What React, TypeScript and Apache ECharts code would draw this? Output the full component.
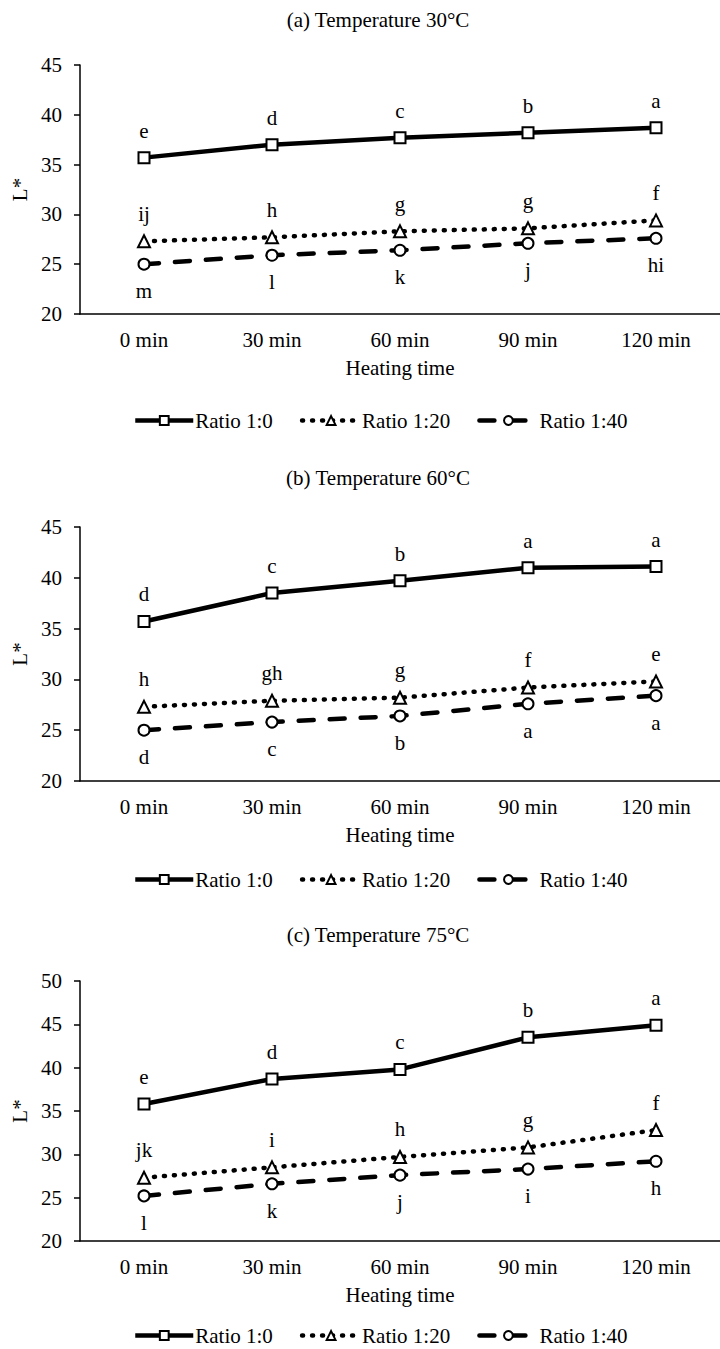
import React, { useEffect, useRef } from "react";
import * as echarts from "echarts";

const categories = ["0 min", "30 min", "60 min", "90 min", "120 min"];
const seriesNames = ["Ratio 1:0", "Ratio 1:20", "Ratio 1:40"];
const panelTitles = ["(a) Temperature 30°C", "(b) Temperature 60°C", "(c) Temperature 75°C"];
const yTicksMin = [20, 20, 20];
const yTicksMax = [45, 45, 50];

// Panel (a) 30°C
const a_ratio_1_0 = [35.7, 37.0, 37.7, 38.2, 38.7];
const a_ratio_1_20 = [27.3, 27.7, 28.3, 28.6, 29.4];
const a_ratio_1_40 = [25.0, 25.9, 26.4, 27.1, 27.6];
const a_letters_1_0 = ["e", "d", "c", "b", "a"];
const a_letters_1_20 = ["ij", "h", "g", "g", "f"];
const a_letters_1_40 = ["m", "l", "k", "j", "hi"];

// Panel (b) 60°C
const b_ratio_1_0 = [35.7, 38.5, 39.7, 41.0, 41.1];
const b_ratio_1_20 = [27.3, 27.9, 28.2, 29.2, 29.8];
const b_ratio_1_40 = [25.0, 25.8, 26.4, 27.6, 28.4];
const b_letters_1_0 = ["d", "c", "b", "a", "a"];
const b_letters_1_20 = ["h", "gh", "g", "f", "e"];
const b_letters_1_40 = ["d", "c", "b", "a", "a"];

// Panel (c) 75°C
const c_ratio_1_0 = [35.8, 38.7, 39.8, 43.5, 44.9];
const c_ratio_1_20 = [27.3, 28.5, 29.7, 30.8, 32.8];
const c_ratio_1_40 = [25.2, 26.6, 27.6, 28.3, 29.2];
const c_letters_1_0 = ["e", "d", "c", "b", "a"];
const c_letters_1_20 = ["jk", "i", "h", "g", "f"];
const c_letters_1_40 = ["l", "k", "j", "i", "h"];

const panelValues = [
  [a_ratio_1_0, a_ratio_1_20, a_ratio_1_40],
  [b_ratio_1_0, b_ratio_1_20, b_ratio_1_40],
  [c_ratio_1_0, c_ratio_1_20, c_ratio_1_40],
];
const panelLetters = [
  [a_letters_1_0, a_letters_1_20, a_letters_1_40],
  [b_letters_1_0, b_letters_1_20, b_letters_1_40],
  [c_letters_1_0, c_letters_1_20, c_letters_1_40],
];

const FONT = '"Liberation Serif", "Times New Roman", serif';
const FS = 21;

// layout (pixels)
const gridTops = [65, 527, 981];
const gridHeights = [249, 254, 260];
const titleYs = [20, 478, 935];
const legendCenters = [421, 880, 1336];

const seriesStyles = [
  { symbol: "rect", symbolSize: 11, lineType: "solid" as any, cap: "butt", labelPos: "top" },
  { symbol: "triangle", symbolSize: 12, lineType: [1, 9], cap: "round", labelPos: "top" },
  { symbol: "circle", symbolSize: 11, lineType: [15, 16], cap: "round", labelPos: "bottom" },
];

export default function App() {
  const ref = useRef<HTMLDivElement>(null);

  useEffect(() => {
    if (!ref.current) return;
    const chart = echarts.init(ref.current, null, { renderer: "svg" });

    const grids = gridTops.map((top, i) => ({
      left: 80,
      width: 645,
      top,
      height: gridHeights[i],
    }));

    const xAxes = gridTops.map((_, i) => ({
      type: "category",
      gridIndex: i,
      data: categories,
      boundaryGap: true,
      name: "Heating time",
      nameLocation: "middle",
      nameGap: 43,
      nameTextStyle: { fontFamily: FONT, fontSize: FS, color: "#000" },
      axisLine: { lineStyle: { color: "#000", width: 1.5 } },
      axisTick: { alignWithLabel: true, length: 6, lineStyle: { color: "#000", width: 1.5 } },
      axisLabel: { fontFamily: FONT, fontSize: FS, color: "#000", margin: 15 },
      splitLine: { show: false },
    }));

    const yAxes = gridTops.map((_, i) => ({
      type: "value",
      gridIndex: i,
      min: yTicksMin[i],
      max: yTicksMax[i],
      interval: 5,
      name: "L*",
      nameLocation: "middle",
      nameGap: 47,
      nameTextStyle: { fontFamily: FONT, fontSize: FS, color: "#000" },
      axisLine: { show: true, lineStyle: { color: "#000", width: 1.5 } },
      axisTick: { show: true, length: 6, lineStyle: { color: "#000", width: 1.5 } },
      axisLabel: { fontFamily: FONT, fontSize: FS, color: "#000", margin: 18 },
      splitLine: { show: false },
    }));

    const series: any[] = [];
    panelValues.forEach((vals, p) => {
      vals.forEach((data, s) => {
        const st = seriesStyles[s];
        const letters = panelLetters[p][s];
        series.push({
          type: "line",
          name: seriesNames[s],
          xAxisIndex: p,
          yAxisIndex: p,
          data,
          symbol: st.symbol,
          symbolSize: st.symbolSize,
          showAllSymbol: true,
          itemStyle: { color: "#fff", borderColor: "#000", borderWidth: 2 },
          lineStyle: { color: "#000", width: 4.5, type: st.lineType, cap: st.cap },
          label: {
            show: true,
            position: st.labelPos,
            distance: 10,
            formatter: (prm: any) => letters[prm.dataIndex],
            fontFamily: FONT,
            fontSize: FS,
            color: "#000",
          },
          emphasis: { disabled: true },
        });
      });
    });

    const legends = legendCenters.map((cy) => ({
      data: seriesNames,
      left: 133,
      top: cy - 11,
      padding: 0,
      orient: "horizontal",
      itemWidth: 58,
      itemHeight: 11,
      itemGap: 27,
      textStyle: { fontFamily: FONT, fontSize: FS, color: "#000", padding: [0, 0, 0, -3] },
      lineStyle: { width: 4.5 },
      selectedMode: false,
    }));

    const graphics = panelTitles.map((t, i) => ({
      type: "text",
      x: 378,
      y: titleYs[i],
      style: {
        text: t,
        font: `${FS}px ${FONT}`,
        fill: "#000",
        textAlign: "center",
        textVerticalAlign: "middle",
      },
    }));

    chart.setOption({
      animation: false,
      backgroundColor: "#fff",
      grid: grids,
      xAxis: xAxes,
      yAxis: yAxes,
      legend: legends,
      graphic: graphics,
      series,
    });

    return () => chart.dispose();
  }, []);

  return (
    <div
      ref={ref}
      style={{ position: "absolute", left: 0, top: 0, width: 720, height: 1349, background: "#fff" }}
    />
  );
}
